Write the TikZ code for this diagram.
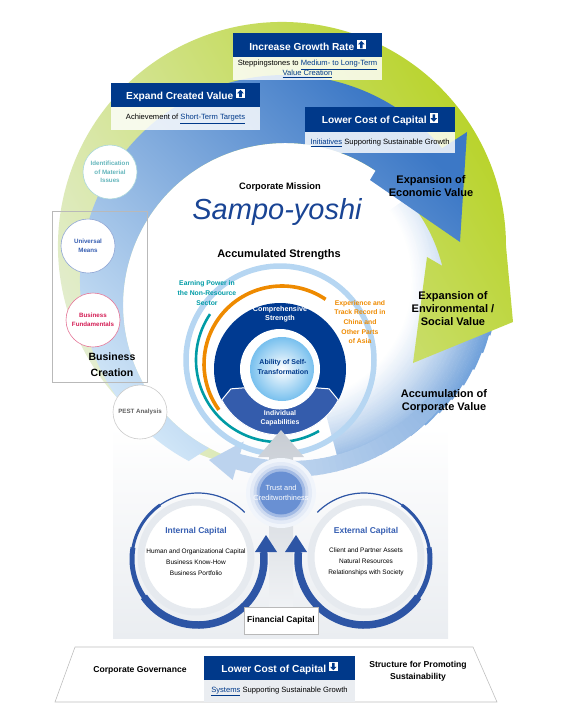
\documentclass[tikz,border=0pt]{standalone}
\usepackage{fontspec}
\setmainfont{Liberation Sans}
\usetikzlibrary{positioning}

\definecolor{headblue}{RGB}{0,57,138}
\definecolor{samponavy}{RGB}{25,68,148}
\definecolor{grlime}{RGB}{184,211,40}
\definecolor{grpale}{RGB}{228,238,212}
\definecolor{bandblue}{RGB}{60,120,198}
\definecolor{bandpale}{RGB}{210,231,248}
\definecolor{accblue}{RGB}{80,140,210}
\definecolor{palering}{RGB}{182,214,242}
\definecolor{ringdark}{RGB}{0,58,145}
\definecolor{segblue}{RGB}{52,92,172}
\definecolor{coreblue}{RGB}{120,192,238}
\definecolor{tealarc}{RGB}{0,155,165}
\definecolor{orangearc}{RGB}{238,138,0}
\definecolor{capblue}{RGB}{45,85,165}
\definecolor{capring}{RGB}{230,234,239}
\definecolor{trustblue}{RGB}{62,112,198}
\definecolor{shaftgray}{RGB}{200,205,212}
\definecolor{panelgray}{RGB}{234,237,241}
\definecolor{matteal}{RGB}{100,182,188}
\definecolor{meansblue}{RGB}{55,95,178}
\definecolor{fundred}{RGB}{212,30,85}

\newcommand\upmark{\tikz[baseline=-0.8pt, x=1pt, y=1pt]{\fill[white] (0,0) rectangle (8.6,9.4);
  \fill[headblue] (4.3,8.4) -- (7.6,4.9) -- (5.6,4.9) -- (5.6,1) -- (3,1) -- (3,4.9) -- (1,4.9) -- cycle;}}
\newcommand\downmark{\tikz[baseline=-0.8pt, x=1pt, y=1pt]{\fill[white] (0,0) rectangle (8.6,9.4);
  \fill[headblue] (4.3,1) -- (7.6,4.5) -- (5.6,4.5) -- (5.6,8.4) -- (3,8.4) -- (3,4.5) -- (1,4.5) -- cycle;}}
\newcommand\linkul[1]{\textcolor{headblue}{\underline{#1}}}

\begin{document}
\begin{tikzpicture}[x=1pt, y=-1pt,
  header/.style    = {fill=headblue, text=white, minimum height=24pt, inner sep=0pt, font=\bfseries\fontsize{10.2}{12}\selectfont},
  subbox/.style    = {fill=white, fill opacity=0.82, text opacity=1, minimum height=23pt, inner sep=0pt, align=center, font=\fontsize{7.6}{9.5}\selectfont},
  issue/.style     = {circle, draw, line width=0.6pt, fill=white, minimum size=54pt, inner sep=0pt, align=center, font=\bfseries\fontsize{6.2}{8.5}\selectfont},
  valuetext/.style = {align=center, font=\bfseries\fontsize{11}{13}\selectfont},
  ringtext/.style  = {align=center, text=white, font=\bfseries\fontsize{7.2}{9}\selectfont},
  strength/.style  = {align=center, font=\bfseries\fontsize{6.8}{9.6}\selectfont},
  capcircle/.style = {circle, fill=white, draw=capring, line width=7pt, minimum size=110pt},
  captitle/.style  = {text=meansblue, font=\bfseries\fontsize{8.5}{10}\selectfont},
  capitems/.style  = {align=center, font=\fontsize{6.5}{11}\selectfont},
  ]
  \useasboundingbox (0,0) rectangle (560,720);
  % panel behind the capitals
  \shade[top color=white, bottom color=panelgray] (113,427) rectangle (448,638);
  % accumulation of corporate value
  \foreach \r [evaluate=\r as \pc using {int(85*((\r-120)/87)^1.2)},
               evaluate=\r as \ea using {ifthenelse(\r>190,75-3.5*(\r-190),75)}]
      in {120,121.5,...,207}
    \draw[accblue!\pc!white, line width=1.9pt]
      ([shift={(-35:\r)}]290,280) arc[start angle=-35, end angle=\ea, radius=\r];
  % outer green band
  \shade[top color=grlime, bottom color=grpale, shading angle=-60]
    ([shift={(108:224)}]282,246) arc[start angle=108, end angle=360, radius=224]
    -- (513,322) -- (413,363) -- (427,257) -- ([shift={(-14:162)}]285,305)
    arc[start angle=-14, end angle=-252, radius=162] -- cycle;
  % inner blue band
  \shade[top color=bandblue, bottom color=bandpale, shading angle=-45]
    ([shift={(118:205)}]285,280) arc[start angle=118, end angle=320, radius=205]
    -- (467,132) -- (460,242) -- (370,180) -- ([shift={(-56:162)}]285,305)
    arc[start angle=-56, end angle=-242, radius=162] -- cycle;
  % returning arc below the strengths
  \foreach \a [evaluate=\a as \pc using {int(max(38,62-(\a-40)*0.5))}] in {40,42,...,106}
    \draw[accblue!\pc!white, line width=16pt] ([shift={(\a:189)}]290,280) arc[start angle=\a, end angle=\a+2.5, radius=189];
  \fill[accblue!38!white] ([shift={(106:208)}]290,280) -- (209,460) -- ([shift={(106:168)}]290,280) -- cycle;

  % accumulated strengths
  \draw[palering, line width=5.5pt] (280,360) circle[radius=94];
  \draw[tealarc, line width=2.6pt] ([shift={(214:82)}]278,360) arc[start angle=214, end angle=60, radius=82];
  \draw[orangearc, line width=3.6pt] ([shift={(-56:78)}]282,364) arc[start angle=-56, end angle=-216, radius=78];
  \fill[ringdark] (280,369) circle[radius=66];
  \filldraw[fill=segblue, draw=white, line width=1pt]
    ([shift={(28:66)}]280,369) arc[start angle=28, end angle=152, radius=66]
    -- ([shift={(158:53)}]280,369) -- ([shift={(152:40)}]280,369)
    arc[start angle=152, end angle=28, radius=40] -- ([shift={(22:53)}]280,369) -- cycle;
  \fill[white] (280,369) circle[radius=40];
  \shade[inner color=white, outer color=coreblue] (282,369) circle[radius=32];

  % financial capital arrow
  \shade[top color=shaftgray, bottom color=panelgray!70!white]
    (269,608) -- (269,457) -- (258,457) -- (281,430) -- (304,457) -- (293,457) -- (293,608) -- cycle;

  % internal and external capital
  \foreach \w/\a in {1.2pt/-45, 3pt/-125, 5pt/-170, 7.5pt/-215}{
    \draw[capblue, line width=\w] ([shift={(\a:66)}]198,559) arc[start angle=\a, end angle=-366, radius=66];
    \draw[capblue, line width=\w] ([shift={(180-\a:66)}]364,559) arc[start angle=180-\a, end angle=546, radius=66];
  }
  \fill[capblue] (255,552) -- (277,552) -- (266,535) -- cycle;
  \fill[capblue] (307,552) -- (285,552) -- (296,535) -- cycle;
  \node[capcircle] (intcap) at (196,557) {};
  \node[capcircle] (extcap) at (366,557) {};
  \node[captitle] (inttitle) at (196,531) {Internal Capital};
  \node[capitems] (intitems) at (196,562) {Human and Organizational Capital\\Business Know-How\\Business Portfolio};
  \node[captitle] (exttitle) at (366,531) {External Capital};
  \node[capitems] (extitems) at (366,562) {Client and Partner Assets\\Natural Resources\\Relationships with Society};

  % trust
  \foreach \r/\c in {35/7, 31/14, 27.5/26, 24.5/48, 21.5/78}
    \fill[trustblue!\c!white] (281,493) circle[radius=\r];
  \node[ringtext, font=\fontsize{7.4}{10}\selectfont] (trust) at (281,493) {Trust and\\Creditworthiness};
  \node[draw=gray!55, fill=white, minimum width=74pt, minimum height=27pt, inner sep=0pt,
        font=\bfseries\fontsize{8.5}{10}\selectfont] (fincap) at (281,620.5) {Financial Capital};

  % targets
  \node[header, minimum width=149pt] (growhead) at (307.5,45) {Increase Growth Rate \upmark};
  \node[subbox, minimum width=149pt, below=0pt of growhead] (growsub) {Steppingstones to \linkul{Medium- to Long-Term}\\\linkul{Value Creation}};
  \node[header, minimum width=149pt] (expandhead) at (185.5,95) {Expand Created Value \upmark};
  \node[subbox, minimum width=149pt, below=0pt of expandhead] (expandsub) {Achievement of \linkul{Short-Term Targets}};
  \node[header, minimum width=150pt, minimum height=25pt] (costhead) at (380,119.5) {Lower Cost of Capital \downmark};
  \node[subbox, minimum width=150pt, minimum height=21pt, below=0pt of costhead] (costsub) {\linkul{Initiatives} Supporting Sustainable Growth};

  % business creation
  \draw[gray!55, line width=0.6pt] (52,211) rectangle (147,382);
  \node[issue, draw=matteal!55, text=matteal] (material) at (110,172) {Identification\\of Material\\Issues};
  \node[issue, draw=meansblue!55, text=meansblue] (means) at (88,246) {Universal\\Means};
  \node[issue, draw=fundred!60, text=fundred] (fundament) at (93,320) {Business\\Fundamentals};
  \node[issue, draw=gray!40, text=gray!75!black] (pest) at (140,412) {PEST Analysis};
  \node[align=center, font=\bfseries\fontsize{10.5}{16}\selectfont] (creation) at (112,365) {Business\\Creation};

  % mission and labels
  \node[font=\bfseries\fontsize{9.3}{11}\selectfont] (mission) at (280,187) {Corporate Mission};
  \node[text=samponavy, font=\itshape\fontsize{29}{32}\selectfont] (sampo) at (277,212) {Sampo-yoshi};
  \node[font=\bfseries\fontsize{11}{13}\selectfont] (accstr) at (279,255) {Accumulated Strengths};
  \node[strength, text=tealarc] (earning) at (207,293) {Earning Power in\\the Non-Resource\\Sector};
  \node[strength, text=orangearc] (asia) at (360,322) {Experience and\\Track Record in\\China and\\Other Parts\\of Asia};
  \node[ringtext] (compre) at (280,314.5) {Comprehensive\\Strength};
  \node[ringtext, text=headblue, font=\bfseries\fontsize{7}{10}\selectfont] (selftrans) at (283,367) {Ability of Self-\\Transformation};
  \node[ringtext, font=\bfseries\fontsize{6.9}{9}\selectfont] (indiv) at (280,418.5) {Individual\\Capabilities};
  \node[valuetext] (econ) at (431,186) {Expansion of\\Economic Value};
  \node[valuetext] (envi) at (453,309) {Expansion of\\Environmental /\\Social Value};
  \node[valuetext] (accum) at (444,401) {Accumulation of\\Corporate Value};

  % governance base
  \draw[gray!50, line width=0.6pt] (55,702) -- (75,647) -- (473,647) -- (497,702) -- cycle;
  \node[font=\bfseries\fontsize{8.6}{10}\selectfont] (govern) at (140,670) {Corporate Governance};
  \node[header, minimum width=151pt] (basehead) at (279.5,668) {Lower Cost of Capital \downmark};
  \node[subbox, fill=panelgray, fill opacity=1, minimum width=151pt, minimum height=22pt, below=0pt of basehead] (basesub) {\linkul{Systems} Supporting Sustainable Growth};
  \node[align=center, font=\bfseries\fontsize{8.6}{12}\selectfont] (promote) at (418,671) {Structure for Promoting\\Sustainability};
\end{tikzpicture}
\end{document}
